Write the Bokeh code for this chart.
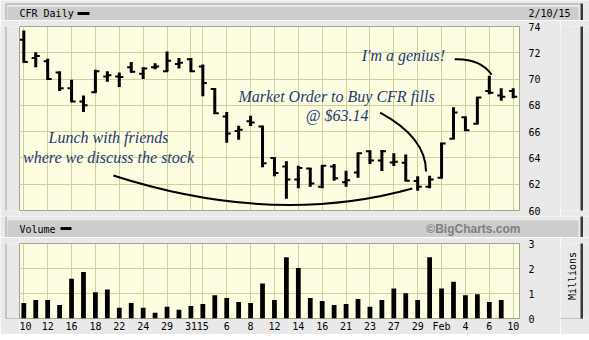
import math
from bokeh.plotting import figure
from bokeh.layouts import column, row
from bokeh.models import FixedTicker, Grid, Label, Range1d
from bokeh.embed import file_html
from bokeh.resources import INLINE

# ---------------- data ----------------
dates = [
    "2014-12-10", "2014-12-11", "2014-12-12", "2014-12-15", "2014-12-16", "2014-12-17",
    "2014-12-18", "2014-12-19", "2014-12-22", "2014-12-23", "2014-12-24", "2014-12-26",
    "2014-12-29", "2014-12-30", "2014-12-31", "2015-01-02", "2015-01-05", "2015-01-06",
    "2015-01-07", "2015-01-08", "2015-01-09", "2015-01-12", "2015-01-13", "2015-01-14",
    "2015-01-15", "2015-01-16", "2015-01-20", "2015-01-21", "2015-01-22", "2015-01-23",
    "2015-01-26", "2015-01-27", "2015-01-28", "2015-01-29", "2015-01-30", "2015-02-02",
    "2015-02-03", "2015-02-04", "2015-02-05", "2015-02-06", "2015-02-09", "2015-02-10",
]
opens = [73.0, 71.6, 71.35, 70.5, 69.3, 68.3, 69.0, 70.2, 70.2, 70.9, 70.4, 70.9,
         70.6, 71.15, 71.5, 70.95, 69.25, 67.15, 66.05, 66.8, 66.4, 64.0, 63.35, 62.36,
         63.2, 61.8, 63.35, 62.15, 62.9, 64.5, 63.8, 63.65, 63.64, 62.25, 61.8, 62.5,
         65.45, 67.1, 66.6, 69.1, 68.75, 69.1]
highs = [73.7, 72.05, 71.55, 70.58, 69.95, 68.75, 70.7, 70.6, 70.5, 71.3, 70.9, 71.2,
         72.1, 71.6, 71.6, 71.1, 69.3, 67.5, 66.45, 67.2, 66.45, 64.05, 63.75, 63.4,
         63.23, 63.41, 63.54, 63.03, 64.4, 64.56, 64.6, 64.36, 64.26, 62.6, 62.64, 65.15,
         67.85, 67.14, 68.6, 70.25, 69.3, 69.3]
lows = [71.3, 70.9, 69.95, 69.1, 68.3, 67.5, 69.0, 69.8, 69.4, 70.5, 70.0, 70.75,
        70.6, 70.8, 70.55, 68.7, 67.35, 65.15, 65.38, 66.42, 63.3, 62.6, 60.9, 61.69,
        61.8, 61.69, 62.26, 61.8, 62.5, 63.54, 63.0, 63.38, 62.26, 61.5, 61.69, 62.45,
        65.44, 66.05, 66.58, 68.85, 68.35, 68.55]
closes = [71.3, 71.75, 70.0, 69.3, 68.3, 68.0, 70.6, 70.3, 70.15, 70.55, 70.8, 70.95,
          71.4, 71.25, 70.6, 69.7, 67.4, 65.85, 66.15, 66.7, 63.6, 62.85, 62.35, 63.23,
          62.05, 63.4, 62.45, 62.3, 64.35, 63.8, 64.5, 63.7, 62.26, 61.8, 62.35, 65.1,
          67.45, 66.1, 68.6, 68.95, 68.65, 68.65]
volume_millions = [0.62, 0.74, 0.74, 0.54, 1.59, 1.86, 1.05, 1.16, 0.43, 0.62,
                   0.43, 0.23, 0.47, 0.35, 0.50, 0.58, 0.93, 0.82, 0.66, 0.62,
                   1.40, 0.74, 2.45, 2.02, 0.82, 0.70, 0.54, 0.58, 0.78, 0.47,
                   0.74, 1.20, 1.01, 0.74, 2.45, 1.20, 1.47, 0.93, 0.97, 0.66,
                   0.74, 0.0]
tick_dates = ["2014-12-10", "2014-12-12", "2014-12-16", "2014-12-18", "2014-12-22",
              "2014-12-24", "2014-12-29", "2014-12-31", "2015-01-02", "2015-01-06",
              "2015-01-08", "2015-01-12", "2015-01-14", "2015-01-16", "2015-01-21",
              "2015-01-23", "2015-01-27", "2015-01-29", "2015-02-02", "2015-02-04",
              "2015-02-06", "2015-02-10"]
tick_labels = ["10", "12", "16", "18", "22", "24", "29", "31", "15", "6", "8", "12",
               "14", "16", "21", "23", "27", "29", "Feb", "4", "6", "10"]
price_ticks = [60, 62, 64, 66, 68, 70, 72, 74]
volume_ticks = [0, 1, 2, 3]

# ---------------- style ----------------
PANEL_BG = "#e9e9e9"
HEADER_BG = "#cdcdcd"
PLOT_BG = "#fdfde2"
GRID_C = "#d0d09c"
EDGE = "#a2a2a2"
DARK = "#383838"
INK = "#1d3b73"
MONO = "DejaVu Sans Mono"
SCRIPT = "Liberation Serif"

W = 589
X0, X1 = -0.36, 41.53

idx = list(range(len(dates)))
tick_idx = [dates.index(d) for d in tick_dates]
xr = Range1d(X0, X1)


# ---------------- decoration strips (panel, header bars) ----------------
def deco(w, h, cx0, cy0):
    f = figure(width=w, height=h, x_range=Range1d(cx0, cx0 + w),
               y_range=Range1d(cy0 + h, cy0), output_backend="svg",
               toolbar_location=None, x_axis_location=None, y_axis_location=None,
               min_border=0, outline_line_color=None,
               background_fill_color=PANEL_BG, border_fill_color=PANEL_BG)
    for r in list(f.center):
        r.visible = False
    # outer panel edges
    f.segment(x0=[5.5, 5.5], y0=[3.5, 3.5], x1=[5.5, 580], y1=[334, 3.5],
              line_color=EDGE, line_width=1)
    f.quad(left=[580, 5], right=[582.5, 582.5], top=[3, 334], bottom=[336.5, 336.5],
           fill_color=DARK, line_color=None)
    # header bars and legend dashes
    f.quad(left=[7, 7], right=[578, 578], top=[6.5, 220], bottom=[19.5, 236.5],
           fill_color=HEADER_BG, line_color=None)
    f.quad(left=[77, 60], right=[89, 71], top=[11.5, 226.5], bottom=[14.5, 229.5],
           fill_color="black", line_color=None)
    return f


def txt(f, x, y, text, **kw):
    opts = dict(text_font=MONO, text_font_size="10px", text_color="black",
                text_baseline="middle", text_align="left")
    opts.update(kw)
    f.add_layout(Label(x=x, y=y, text=text, **opts))


hdr1 = deco(W, 20, 0, 0)
txt(hdr1, 19, 13, "CFR Daily")
txt(hdr1, 528, 13, "2/10/15")

hdr2 = deco(W, 21, 0, 216)
txt(hdr2, 19, 228.5, "Volume")
txt(hdr2, 520, 228.5, "\u00a9BigCharts.com", text_font="Liberation Sans",
    text_font_size="12px", text_font_style="bold", text_color="#7f7f7f", text_align="right")

ls1 = deco(19, 196, 0, 20)
rs1 = deco(29, 196, 560, 20)
ls2 = deco(19, 97, 0, 237)
rs2 = deco(29, 97, 560, 237)
txt(rs2, 572, 279, "Millions", angle=math.pi / 2, text_align="center")
foot = deco(W, 6, 0, 334)

# ---------------- price figure ----------------
p1 = figure(width=541, height=196, x_range=xr, y_range=Range1d(60, 74),
            output_backend="svg", toolbar_location=None,
            x_axis_location=None, y_axis_location="right",
            min_border_left=0, min_border_right=41,
            min_border_top=6, min_border_bottom=6,
            background_fill_color=PLOT_BG, border_fill_color=PANEL_BG,
            outline_line_color="#a4a494")

# ---------------- volume figure ----------------
p2 = figure(width=541, height=97, x_range=xr, y_range=Range1d(0, 3),
            output_backend="svg", toolbar_location=None,
            y_axis_location="right",
            min_border_left=0, min_border_right=41,
            min_border_top=6, min_border_bottom=14,
            background_fill_color=PLOT_BG, border_fill_color=PANEL_BG,
            outline_line_color="#a4a494")

for p, yt in ((p1, price_ticks), (p2, volume_ticks)):
    for r in list(p.center):
        if isinstance(r, Grid):
            r.visible = False
    p.add_layout(Grid(dimension=0, ticker=FixedTicker(ticks=tick_idx),
                      grid_line_color=GRID_C, grid_line_width=1))
    p.add_layout(Grid(dimension=1, ticker=FixedTicker(ticks=yt),
                      grid_line_color=GRID_C, grid_line_width=1))
    ax = p.yaxis[0]
    ax.ticker = FixedTicker(ticks=yt)
    ax.axis_line_color = None
    ax.major_tick_line_color = None
    ax.minor_tick_line_color = None
    ax.major_tick_out = 0
    ax.major_tick_in = 0
    ax.major_label_standoff = 9
    ax.major_label_text_font = MONO
    ax.major_label_text_font_size = "10px"
    ax.major_label_text_color = "black"

xa = p2.xaxis[0]
xa.ticker = FixedTicker(ticks=tick_idx)
xa.major_label_overrides = {i: lab for i, lab in zip(tick_idx, tick_labels)}
xa.axis_line_color = None
xa.major_tick_line_color = None
xa.minor_tick_line_color = None
xa.major_tick_out = 0
xa.major_tick_in = 0
xa.major_label_standoff = 2
xa.major_label_text_font = MONO
xa.major_label_text_font_size = "10px"
xa.major_label_text_color = "black"

# OHLC bars
p1.segment(x0=idx, y0=lows, x1=idx, y1=highs, line_color="black", line_width=3)
p1.segment(x0=[i - 0.34 for i in idx], y0=opens, x1=[i + 0.1 for i in idx], y1=opens,
           line_color="black", line_width=2)
p1.segment(x0=[i - 0.1 for i in idx], y0=closes, x1=[i + 0.34 for i in idx], y1=closes,
           line_color="black", line_width=2)

# volume bars
p2.vbar(x=idx, top=volume_millions, bottom=0, width=0.4, fill_color="black",
        line_color=None)

# annotation curves
i29 = dates.index("2015-01-29")
i30 = dates.index("2015-01-30")
i_f6 = dates.index("2015-02-06")

p1.quadratic(x0=[7.5], y0=[62.66], x1=[i29 - 0.45], y1=[lows[i29] + 0.17],
             cx=[20.95], cy=[58.74], line_color="black", line_width=2)
p1.quadratic(x0=[29.85], y0=[67.45], x1=[i30 - 0.3], y1=[highs[i30] + 0.33],
             cx=[i30 - 0.3], cy=[65.56], line_color="black", line_width=2)
p1.quadratic(x0=[36.1], y0=[71.51], x1=[i_f6 + 0.2], y1=[highs[i_f6] + 0.08],
             cx=[38.26], cy=[71.57], line_color="black", line_width=2)


def script(x, y, text):
    p1.add_layout(Label(x=x, y=y, text=text, text_font=SCRIPT, text_font_style="italic",
                        text_font_size="16px", text_color=INK, text_align="center",
                        text_baseline="middle"))


script(7.1, 65.55, "Lunch with friends")
script(7.1, 64.05, "where we discuss the stock")
script(26.2, 68.68, "Market Order to Buy CFR fills")
script(26.25, 67.2, "@ $63.14")
script(31.8, 71.8, "I'm a genius!")

layout = column(hdr1, row(ls1, p1, rs1, spacing=0), hdr2,
                row(ls2, p2, rs2, spacing=0), foot, spacing=0)
open("out.html", "w").write(file_html(layout, INLINE))
